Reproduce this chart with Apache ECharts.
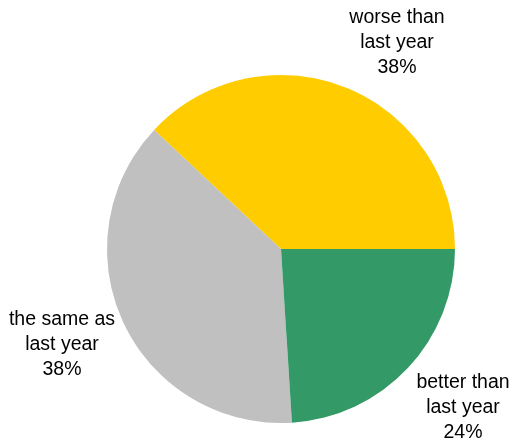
<!DOCTYPE html>
<html>
<head>
<meta charset="utf-8">
<style>
  html, body { margin: 0; padding: 0; background: #fff; }
  #chart { width: 511px; height: 443px; }
</style>
<script src="https://cdn.jsdelivr.net/npm/echarts@6/dist/echarts.min.js"></script>
</head>
<body>
<div id="chart"></div>
<script>
// Outlook compared to last year
const categories = ['worse than\nlast year', 'the same as\nlast year', 'better than\nlast year'];
const shares = [38, 38, 24];
const colors = ['#FFCC00', '#C0C0C0', '#339966'];

// label anchor points (centre of each text block)
const labelSpots = [[397, 43], [62, 345], [463, 408]];

const chart = echarts.init(document.getElementById('chart'), null, { renderer: 'canvas' });

chart.setOption({
  animation: false,
  backgroundColor: '#ffffff',
  series: [{
    type: 'pie',
    center: [281, 249],
    radius: [0, 174],
    startAngle: 0,
    clockwise: false,
    avoidLabelOverlap: false,
    data: categories.map((name, i) => ({
      name: name,
      value: shares[i],
      itemStyle: { color: colors[i] }
    })),
    itemStyle: { borderWidth: 0 },
    emphasis: { disabled: true },
    label: {
      show: true,
      position: 'outside',
      formatter: p => p.name + '\n' + Math.round(p.percent) + '%',
      fontFamily: 'Liberation Sans, Arial, sans-serif',
      fontSize: 19.5,
      lineHeight: 25,
      color: '#000',
      align: 'center'
    },
    labelLine: { show: false },
    labelLayout: params => ({
      x: labelSpots[params.dataIndex][0],
      y: labelSpots[params.dataIndex][1],
      align: 'center',
      verticalAlign: 'middle'
    })
  }]
});
</script>
</body>
</html>
